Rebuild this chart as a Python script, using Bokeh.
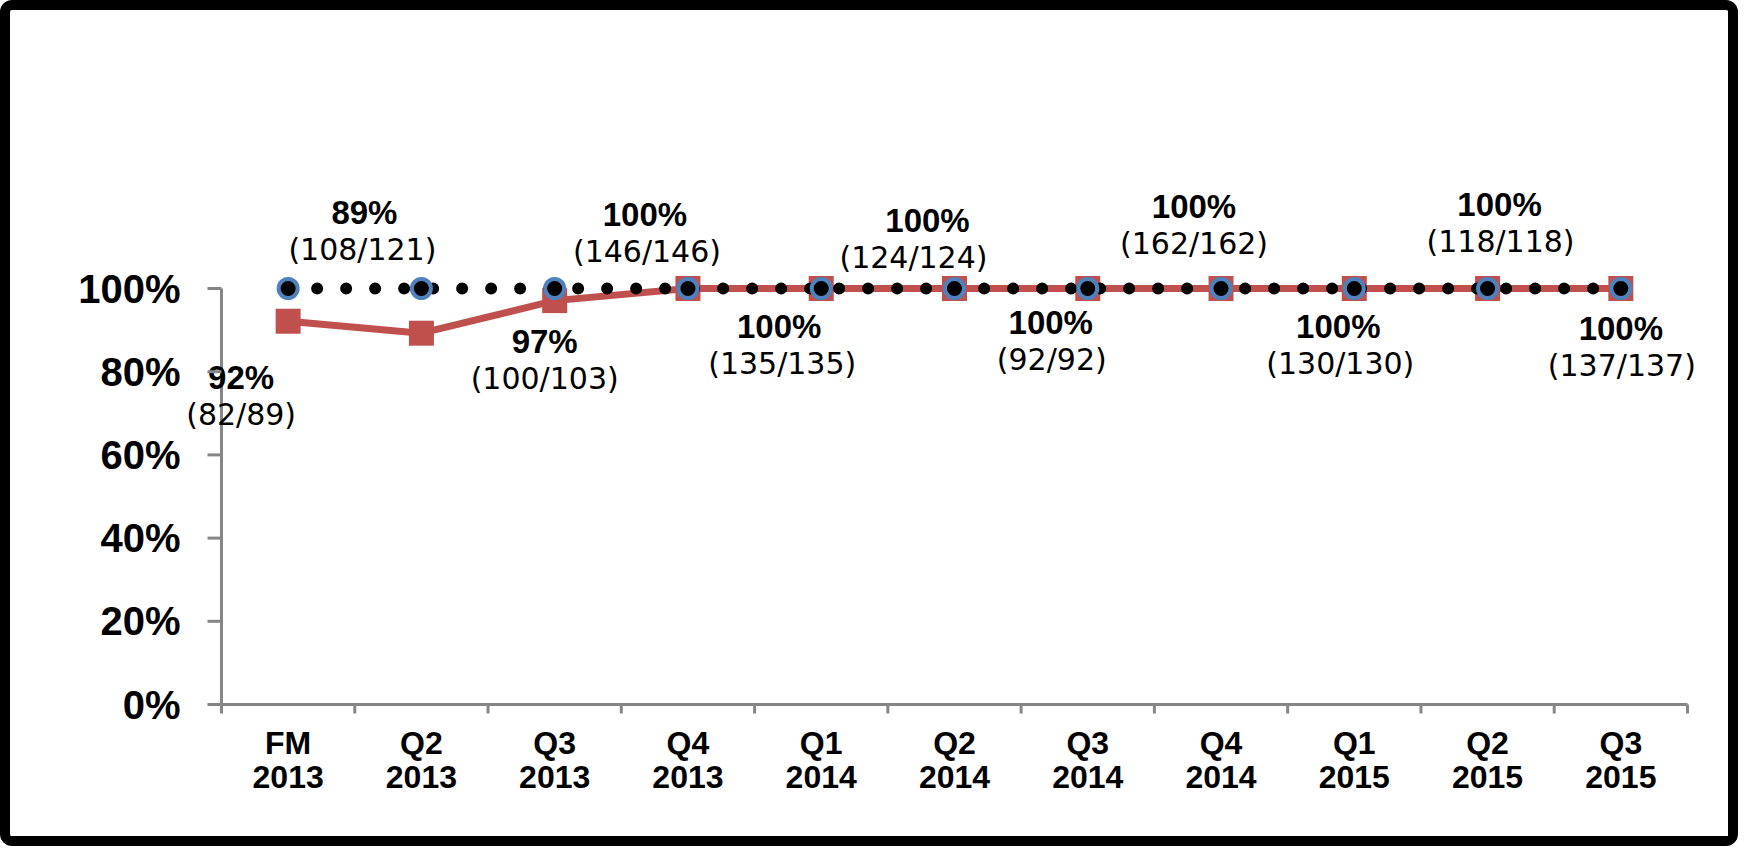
from bokeh.plotting import figure
from bokeh.models import Range1d, FixedTicker, ColumnDataSource, LabelSet
from bokeh.core.properties import value
from bokeh.embed import file_html
from bokeh.resources import INLINE

# ---------------- data ----------------
categories = ["FM\n2013", "Q2\n2013", "Q3\n2013", "Q4\n2013", "Q1\n2014", "Q2\n2014",
              "Q3\n2014", "Q4\n2014", "Q1\n2015", "Q2\n2015", "Q3\n2015"]
numerators = [82, 108, 100, 146, 135, 124, 92, 162, 130, 118, 137]
denominators = [89, 121, 103, 146, 135, 124, 92, 162, 130, 118, 137]
target = [1.0, 1.0, 1.0, 1.0, 1.0, 1.0, 1.0, 1.0, 1.0, 1.0, 1.0]
y_ticks = [0.0, 0.2, 0.4, 0.6, 0.8, 1.0]
y_tick_labels = ["0%", "20%", "40%", "60%", "80%", "100%"]

# label placement (screen-pixel offsets from each point, positive = downwards)
label_dx = [-47, -57, -10, -43, -42, -27, -37, -27, -16, 12, 0]
frac_dx = [-47, -59, -10, -41, -39, -41, -36, -27, -14, 13, 1]
label_dy = [56, -121, 41, -74, 38, -68, 34, -82, 38, -84, 40]
frac_gap = 37

# ---------------- layout ----------------
W, H = 1738, 846
ML, MR, MT, MB = 12, 30, 30, 16            # frame margins (canvas px)
X0_PX, UNIT_X = 199, 133.27                # x = 0 sits 199 px right of the frame edge
Y0_PX, UNIT_Y = 136, 416                   # y = 0 sits 136 px above the frame bottom
YTICK_PX, XTICK_PX = 14, 9

n = len(categories)
fw, fh = W - ML - MR, H - MT - MB
x_start = -X0_PX / UNIT_X
x_end = x_start + fw / UNIT_X
y_start = -Y0_PX / UNIT_Y
y_end = y_start + fh / UNIT_Y

# ---------------- derived ----------------
xs = [i + 0.5 for i in range(n)]
rates = [a / b for a, b in zip(numerators, denominators)]
pct_text = [f"{round(100 * r)}%" for r in rates]
frac_text = [f"({a}/{b})" for a, b in zip(numerators, denominators)]

src = ColumnDataSource(dict(
    x=xs, rate=rates, target=target, pct=pct_text, frac=frac_text,
    dx=label_dx, fdx=frac_dx,
    up=[-d for d in label_dy], fup=[-(d + frac_gap) for d in label_dy],
))

GRAY = "#868686"
RED = "#C0504D"
BLUE = "#4F81BD"

p = figure(width=W, height=H, output_backend="svg", toolbar_location=None,
           x_range=Range1d(x_start, x_end), y_range=Range1d(y_start, y_end),
           min_border_left=ML, min_border_right=MR, min_border_top=MT, min_border_bottom=MB)
p.styles = {"border": "10px solid black", "border-radius": "12px"}
p.outline_line_color = None
p.xgrid.visible = False
p.ygrid.visible = False
p.background_fill_color = "white"
p.border_fill_color = "white"

# y axis pinned at x = 0
ya = p.yaxis[0]
ya.fixed_location = 0
ya.ticker = FixedTicker(ticks=y_ticks, minor_ticks=[])
ya.major_label_overrides = {t: lab for t, lab in zip(y_ticks, y_tick_labels)}
ya.bounds = (0, 1)
ya.axis_line_color = GRAY
ya.axis_line_width = 3
ya.major_tick_line_color = None
ya.major_tick_out = 0
ya.major_tick_in = 0
ya.minor_tick_line_color = None
ya.major_label_standoff = 41
ya.major_label_text_font = "Liberation Sans"
ya.major_label_text_font_style = "bold"
ya.major_label_text_font_size = "40px"
ya.major_label_text_color = "black"

# x axis pinned at y = 0: labels at category centres
xa = p.xaxis[0]
xa.fixed_location = 0
xa.ticker = FixedTicker(ticks=xs, minor_ticks=[])
xa.major_label_overrides = {x: c for x, c in zip(xs, categories)}
xa.bounds = (0, n)
xa.axis_line_color = GRAY
xa.axis_line_width = 3
xa.major_tick_line_color = None
xa.major_tick_out = 0
xa.major_tick_in = 0
xa.minor_tick_line_color = None
xa.major_label_standoff = 20
xa.major_label_text_font = "Liberation Sans"
xa.major_label_text_font_style = "bold"
xa.major_label_text_font_size = "32px"
xa.major_label_text_line_height = 0.96
xa.major_label_text_color = "black"

# tick marks (drawn on the overlay level so nothing paints over them)
nyt = len(y_ticks)
ytick_r = p.rect(x=[-YTICK_PX / 2 / UNIT_X] * nyt, y=y_ticks,
                 width=[YTICK_PX] * nyt, height=[3] * nyt,
                 width_units="screen", height_units="screen",
                 fill_color=GRAY, line_color=None)
ytick_r.level = "overlay"
bounds_x = list(range(n + 1))
xtick_r = p.segment(x0=bounds_x, x1=bounds_x, y0=[0] * len(bounds_x),
                    y1=[-XTICK_PX / UNIT_Y] * len(bounds_x),
                    line_color=GRAY, line_width=3)
xtick_r.level = "overlay"

# red actual series
p.line("x", "rate", source=src, line_color=RED, line_width=7)
p.scatter("x", "rate", source=src, marker="square", size=25, fill_color=RED, line_color=RED, line_width=0)

# black dotted target line and blue-ringed markers
p.line("x", "target", source=src, line_color="black", line_width=12, line_dash="0 29", line_cap="round")
p.scatter("x", "target", source=src, marker="circle", size=19, fill_color="black", line_color=BLUE, line_width=4)

# data labels
p.add_layout(LabelSet(x="x", y="rate", text="pct", source=src, x_offset="dx", y_offset="up",
                      text_font=value("Liberation Sans"), text_font_style="bold", text_font_size="33px",
                      text_align="center", text_baseline="middle", text_color="black"))
p.add_layout(LabelSet(x="x", y="rate", text="frac", source=src, x_offset="fdx", y_offset="fup",
                      text_font=value("DejaVu Sans"), text_font_size="30px",
                      text_align="center", text_baseline="middle", text_color="black"))

open("out.html", "w").write(file_html(p, INLINE))
